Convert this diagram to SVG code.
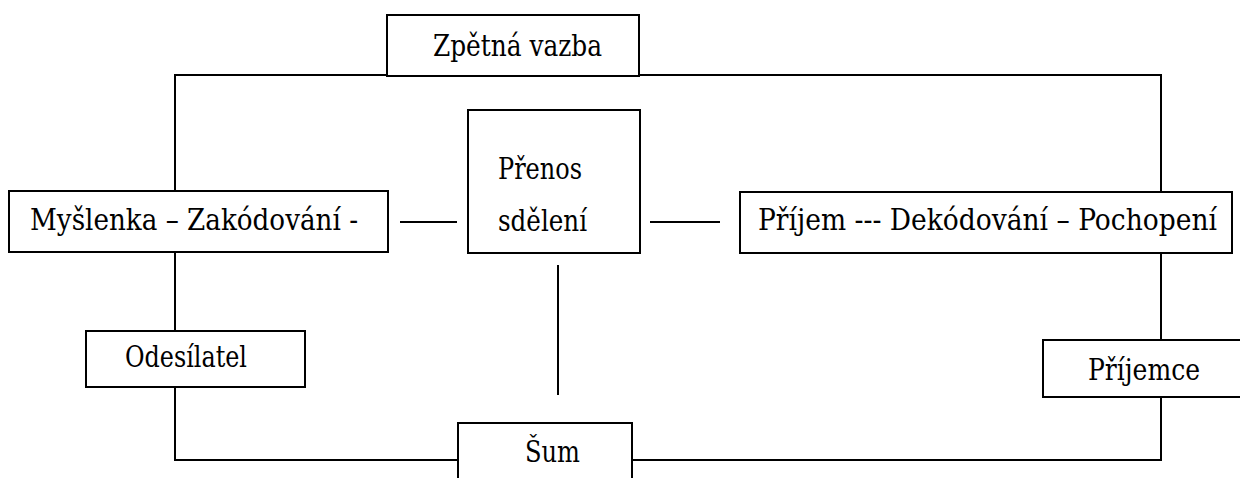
<svg xmlns="http://www.w3.org/2000/svg" width="1240" height="478" viewBox="0 0 1240 478">
  <style>
    .box { fill: #fff; stroke: #000; stroke-width: 2; }
    .wire { fill: none; stroke: #000; stroke-width: 2; }
    .lbl { font-family: "DejaVu Serif Condensed", "DejaVu Serif", serif; font-stretch: condensed; font-size: 30px; fill: #000; }
  </style>
  <rect width="1240" height="478" fill="#fff"/>

  <!-- connectors -->
  <g id="connectors">
    <polyline class="wire" points="175,191 175,75 387,75"/>
    <polyline class="wire" points="639,75 1161,75 1161,192"/>
    <line class="wire" x1="175" y1="252" x2="175" y2="331"/>
    <polyline class="wire" points="175,387 175,460 458,460"/>
    <polyline class="wire" points="632,460 1161,460 1161,397"/>
    <line class="wire" x1="1161" y1="253" x2="1161" y2="340"/>
    <line class="wire" x1="400" y1="222" x2="457" y2="222"/>
    <line class="wire" x1="650" y1="222" x2="720" y2="222"/>
    <line class="wire" x1="558" y1="265" x2="558" y2="395"/>
  </g>

  <g id="zpetna-vazba">
    <rect class="box" x="387" y="15" width="252" height="61"/>
    <text class="lbl" x="433" y="56" textLength="169" lengthAdjust="spacingAndGlyphs">Zpětná vazba</text>
  </g>

  <g id="myslenka">
    <rect class="box" x="9" y="191" width="379" height="61"/>
    <text class="lbl" x="30" y="230" textLength="328" lengthAdjust="spacingAndGlyphs">Myšlenka – Zakódování -</text>
  </g>

  <g id="prenos">
    <rect class="box" x="468" y="110" width="172" height="143"/>
    <text class="lbl" x="498" y="179" textLength="84" lengthAdjust="spacingAndGlyphs">Přenos</text>
    <text class="lbl" x="498" y="231" textLength="89" lengthAdjust="spacingAndGlyphs">sdělení</text>
  </g>

  <g id="prijem">
    <rect class="box" x="740" y="192" width="492" height="61"/>
    <text class="lbl" x="758" y="230" textLength="459" lengthAdjust="spacingAndGlyphs">Příjem --- Dekódování – Pochopení</text>
  </g>

  <g id="odesilatel">
    <rect class="box" x="86" y="331" width="219" height="56"/>
    <text class="lbl" x="125" y="367" textLength="122" lengthAdjust="spacingAndGlyphs">Odesílatel</text>
  </g>

  <g id="prijemce">
    <rect class="box" x="1043" y="340" width="205" height="57"/>
    <text class="lbl" x="1088" y="380" textLength="112" lengthAdjust="spacingAndGlyphs">Příjemce</text>
  </g>

  <g id="sum">
    <rect class="box" x="458" y="423" width="174" height="70"/>
    <text class="lbl" x="525" y="462" textLength="55" lengthAdjust="spacingAndGlyphs">Šum</text>
  </g>
</svg>
